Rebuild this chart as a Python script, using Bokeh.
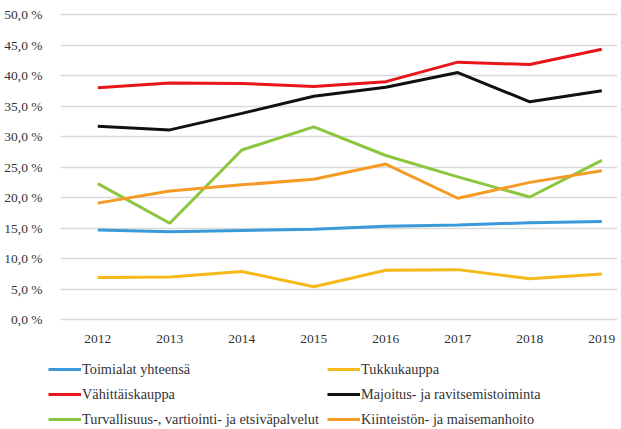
from bokeh.plotting import figure
from bokeh.layouts import column, row
from bokeh.models import Legend, LegendItem, FixedTicker, CustomJSTickFormatter, Range1d
from bokeh.embed import file_html
from bokeh.resources import INLINE

years = [2012, 2013, 2014, 2015, 2016, 2017, 2018, 2019]
toimialat = [14.7, 14.4, 14.6, 14.8, 15.3, 15.5, 15.9, 16.1]
tukku = [6.9, 7.0, 7.9, 5.4, 8.1, 8.2, 6.7, 7.5]
vahittais = [38.0, 38.8, 38.7, 38.2, 39.0, 42.2, 41.8, 44.3]
majoitus = [31.7, 31.1, 33.8, 36.6, 38.1, 40.5, 35.7, 37.5]
turvallisuus = [22.3, 15.8, 27.8, 31.6, 26.9, 23.4, 20.1, 26.1]
kiinteisto = [19.1, 21.1, 22.1, 23.0, 25.5, 19.9, 22.5, 24.4]
y_ticks = [0, 5, 10, 15, 20, 25, 30, 35, 40, 45, 50]

names = ["Toimialat yhteensä", "Tukkukauppa", "Vähittäiskauppa",
         "Majoitus- ja ravitsemistoiminta",
         "Turvallisuus-, vartiointi- ja etsiväpalvelut",
         "Kiinteistön- ja maisemanhoito"]
series = [toimialat, tukku, vahittais, majoitus, turvallisuus, kiinteisto]
colors = ["#3A9AD9", "#F6B91A", "#E8151B", "#111111", "#8CC63F", "#F59A23"]

FONT = "Liberation Serif"
TXT = "#333333"
LW = 3
W = 617

p = figure(width=W, height=346, output_backend="svg", toolbar_location=None,
           x_range=Range1d(2011.482, 2019.218), y_range=Range1d(-0.3, 50.5),
           min_border_left=60, min_border_right=0, min_border_top=11,
           min_border_bottom=25)
p.outline_line_color = None
p.background_fill_color = "white"
p.border_fill_color = "white"

for vals, c in zip(series, colors):
    p.line(years, vals, line_color=c, line_width=LW)

p.xgrid.grid_line_color = None
p.ygrid.grid_line_color = "#d9d9d9"
p.ygrid.grid_line_width = 1.5
p.yaxis.ticker = FixedTicker(ticks=y_ticks)
p.ygrid.ticker = FixedTicker(ticks=y_ticks)
p.xaxis.ticker = FixedTicker(ticks=years)
p.yaxis.formatter = CustomJSTickFormatter(
    code="return tick.toFixed(1).replace('.', ',') + ' %';")

for ax in (p.xaxis[0], p.yaxis[0]):
    ax.axis_line_color = None
    ax.major_tick_line_color = None
    ax.minor_tick_line_color = None
    ax.major_label_text_font = FONT
    ax.major_label_text_color = TXT
p.yaxis.major_label_text_font_size = "13.5px"
p.xaxis.major_label_text_font_size = "13.5px"
p.yaxis.major_label_standoff = 12
p.xaxis.major_label_standoff = 7

# legend holder figure below the chart
q = figure(width=W, height=81, output_backend="svg", toolbar_location=None,
           x_range=Range1d(0, 1), y_range=Range1d(0, 1),
           min_border_left=0, min_border_right=0, min_border_top=0,
           min_border_bottom=0)
q.outline_line_color = None
q.axis.visible = False
q.grid.visible = False
# off-screen key lines (outside the visible ranges), used only for legend swatches
keys = [q.line([5, 6], [5, 6], line_color=c, line_width=LW) for c in colors]

def make_legend(idx, x):
    lg = Legend(items=[LegendItem(label=names[i], renderers=[keys[i]]) for i in idx],
                location=(x, -3), orientation="vertical")
    lg.label_text_font = FONT
    lg.label_text_font_size = "14.3px"
    lg.label_text_color = TXT
    lg.glyph_width = 33
    lg.glyph_height = 22
    lg.label_height = 22
    lg.label_standoff = 1
    lg.spacing = 3
    lg.padding = 0
    lg.margin = 0
    lg.border_line_color = None
    lg.background_fill_alpha = 0
    return lg

q.add_layout(make_legend([0, 2, 4], 48))
q.add_layout(make_legend([1, 3, 5], 327))

layout = column(p, row(q), spacing=0)
open("out.html", "w").write(file_html(layout, INLINE))
